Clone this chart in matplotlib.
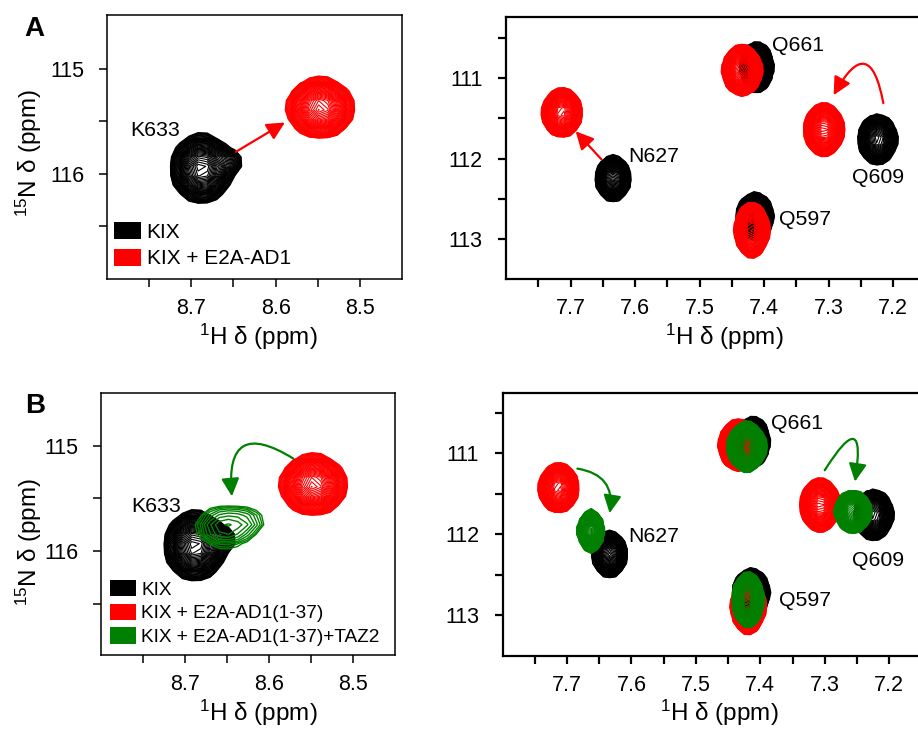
import numpy as np
import matplotlib
matplotlib.use('Agg')
import matplotlib.pyplot as plt
from matplotlib.patches import Patch

plt.rcParams['font.family'] = ['Liberation Sans', 'DejaVu Sans']
plt.rcParams['mathtext.fontset'] = 'custom'
plt.rcParams['mathtext.rm'] = 'Liberation Sans'

# ---- data (ppm) ----
# K633 region (left panels)
k633_kix = [8.688, 115.95, 0.015, 0.135]       # H, N, width H, width N
k633_kix_shoulder = [8.655, 115.89, 0.008, 0.07, 0.18]   # H, N, wH, wN, height
k633_ad1 = [8.547, 115.37, 0.0163, 0.118]
k633_taz2 = [8.652, 115.77, 0.016, 0.09]

# side-chain region (right panels)
residues = ['Q661', 'N627', 'Q609', 'Q597']
kix_h = [7.411, 7.634, 7.224, 7.414]
kix_n = [110.86, 112.25, 111.76, 112.72]
kix_wh = [0.0105, 0.011, 0.0125, 0.0118]
kix_wn = [0.128, 0.116, 0.127, 0.12]
ad1_h = [7.434, 7.713, 7.307, 7.419]
ad1_n = [110.90, 111.43, 111.64, 112.89]
ad1_wh = [0.0127, 0.0127, 0.0127, 0.011]
ad1_wn = [0.128, 0.124, 0.133, 0.14]
taz2_h = [7.421, 7.663, 7.256, 7.419]
taz2_n = [110.92, 111.96, 111.72, 112.81]
taz2_wh = [0.0124, 0.0084, 0.0118, 0.010]
taz2_wn = [0.125, 0.106, 0.106, 0.139]

label_pos_a = [(7.388, 110.59), (7.61, 111.98), (7.263, 112.23), (7.376, 112.76)]
label_pos_b = [(7.384, 110.63), (7.605, 112.03), (7.258, 112.32), (7.371, 112.82)]

left_xmajor = [8.7, 8.6, 8.5]
left_xminor = [8.75, 8.65, 8.55]
left_ymajor = [115, 116]
left_yminor = [115.5, 116.5]
right_xmajor = [7.7, 7.6, 7.5, 7.4, 7.3, 7.2]
right_xminor = [7.75, 7.65, 7.55, 7.45, 7.35, 7.25]
right_ymajor = [111, 112, 113]
right_yminor = [110.5, 111.5, 112.5]

KIX_C, AD1_C, TAZ2_C = 'black', '#ff0000', '#008000'


def spectrum(X, Y, hs, ns, whs, wns, amps=None):
    Z = np.zeros_like(X)
    for i in range(len(hs)):
        a = 1.0 if amps is None else amps[i]
        Z += a * np.exp(-0.5 * ((X - hs[i]) / whs[i]) ** 2 - 0.5 * ((Y - ns[i]) / wns[i]) ** 2)
    return Z


def draw(ax, X, Y, Z, color, n=40, lw=0.8, low=0.05):
    levels = np.geomspace(low, 0.97, n)
    ax.contour(X, Y, Z, levels=levels, colors=color, linewidths=lw)


def style(ax, big, xlab_pos):
    lw = 1.6 if big else 1.1
    for s in ax.spines.values():
        s.set_linewidth(lw)
    ax.tick_params(which='both', direction='out', top=False, right=False,
                   labelsize=15.5, width=lw, length=6)
    ax.tick_params(axis='y', pad=10 if not big else 11)
    ax.tick_params(axis='x', pad=8)
    if big:
        ax.set_xticks(right_xmajor)
        ax.set_xticks(right_xminor, minor=True)
        ax.set_yticks(right_ymajor)
        ax.set_yticks(right_yminor, minor=True)
    else:
        ax.set_xticks(left_xmajor)
        ax.set_xticks(left_xminor, minor=True)
        ax.set_yticks(left_ymajor)
        ax.set_yticks(left_yminor, minor=True)
    ax.set_xlabel(r'$\mathregular{^{1}}$H δ (ppm)', fontsize=17.5)
    ax.xaxis.set_label_coords(*xlab_pos)


def arrow(ax, start, end, color, rad=0.0):
    ax.annotate('', xy=end, xytext=start,
                arrowprops=dict(arrowstyle='-|>,head_length=0.6,head_width=0.3',
                                color=color, lw=1.6, mutation_scale=18,
                                shrinkA=0, shrinkB=0,
                                connectionstyle='arc3,rad=%s' % rad))


fig = plt.figure(figsize=(9.18, 7.3), dpi=100)

# grids
xl = np.arange(8.45, 8.81, 0.011)
yl = np.arange(114.4, 117.1, 0.09)
XL, YL = np.meshgrid(xl, yl)
xr = np.arange(7.14, 7.81, 0.0095)
yr = np.arange(110.2, 113.6, 0.09)
XR, YR = np.meshgrid(xr, yr)

Z_kix_l = spectrum(XL, YL, [k633_kix[0], k633_kix_shoulder[0]], [k633_kix[1], k633_kix_shoulder[1]],
                   [k633_kix[2], k633_kix_shoulder[2]], [k633_kix[3], k633_kix_shoulder[3]],
                   [1.0, k633_kix_shoulder[4]])
Z_ad1_l = spectrum(XL, YL, [k633_ad1[0]], [k633_ad1[1]], [k633_ad1[2]], [k633_ad1[3]])
Z_taz_l = spectrum(XL, YL, [k633_taz2[0], k633_taz2[0] - 0.025], [k633_taz2[1], k633_taz2[1] - 0.05],
                   [k633_taz2[2], 0.012], [k633_taz2[3], 0.07], [1.0, 0.35])
Z_kix_r = spectrum(XR, YR, kix_h, kix_n, kix_wh, kix_wn)
Z_ad1_r = spectrum(XR, YR, ad1_h, ad1_n, ad1_wh, ad1_wn)
Z_taz_r = spectrum(XR, YR, taz2_h, taz2_n, taz2_wh, taz2_wn)

# ---- panel A, left ----
ax1 = fig.add_axes([0.1166, 0.6178, 0.3214, 0.3616])
draw(ax1, XL, YL, Z_kix_l, KIX_C)
draw(ax1, XL, YL, Z_ad1_l, AD1_C)
arrow(ax1, (8.647, 115.79), (8.589, 115.51), AD1_C)
ax1.text(8.772, 115.59, 'K633', fontsize=15.3, ha='left', va='center')
ax1.set_xlim(8.80, 8.45)
ax1.set_ylim(117.01, 114.48)
style(ax1, False, (0.514, -0.162))
ax1.set_ylabel(r'$\mathregular{^{15}}$N δ (ppm)', fontsize=17.5)
ax1.yaxis.set_label_coords(-0.215, 0.477)
ax1.legend(handles=[Patch(facecolor=KIX_C, edgecolor='none', label='KIX'),
                    Patch(facecolor=AD1_C, edgecolor='none', label='KIX + E2A-AD1')],
           loc='lower left', bbox_to_anchor=(0.025, 0.04), frameon=False, fontsize=15,
           handlelength=1.3, handleheight=0.87, handletextpad=0.25, labelspacing=0.32,
           borderpad=0, borderaxespad=0)

# ---- panel A, right ----
ax2 = fig.add_axes([0.5512, 0.6178, 0.4532, 0.3585])
draw(ax2, XR, YR, Z_kix_r, KIX_C)
draw(ax2, XR, YR, Z_ad1_r, AD1_C)
arrow(ax2, (7.652, 112.01), (7.692, 111.66), AD1_C)
arrow(ax2, (7.215, 111.31), (7.292, 111.21), AD1_C, rad=1.4)
for r, (x, y) in zip(residues, label_pos_a):
    ax2.text(x, y, r, fontsize=15.3, ha='left', va='center')
ax2.set_xlim(7.80, 7.155)
ax2.set_ylim(113.5, 110.24)
style(ax2, True, (0.525, -0.164))

# ---- panel B, left ----
ax3 = fig.add_axes([0.110, 0.1027, 0.320, 0.3585])
draw(ax3, XL, YL, Z_kix_l, KIX_C)
draw(ax3, XL, YL, Z_ad1_l, AD1_C)
draw(ax3, XL, YL, Z_taz_l, TAZ2_C, n=9, lw=1.0, low=0.1)
arrow(ax3, (8.571, 115.12), (8.644, 115.48), TAZ2_C, rad=1.0)
ax3.text(8.764, 115.58, 'K633', fontsize=15.3, ha='left', va='center')
ax3.set_xlim(8.80, 8.45)
ax3.set_ylim(116.99, 114.5)
style(ax3, False, (0.536, -0.162))
ax3.set_ylabel(r'$\mathregular{^{15}}$N δ (ppm)', fontsize=17.5)
ax3.yaxis.set_label_coords(-0.195, 0.432)
ax3.legend(handles=[Patch(facecolor=KIX_C, edgecolor='none', label='KIX'),
                    Patch(facecolor=AD1_C, edgecolor='none', label='KIX + E2A-AD1(1-37)'),
                    Patch(facecolor=TAZ2_C, edgecolor='none', label='KIX + E2A-AD1(1-37)+TAZ2')],
           loc='lower left', bbox_to_anchor=(0.03, 0.035), frameon=False, fontsize=13.7,
           handlelength=1.4, handleheight=0.96, handletextpad=0.25, labelspacing=0.25,
           borderpad=0, borderaxespad=0)

# ---- panel B, right ----
ax4 = fig.add_axes([0.5476, 0.1018, 0.4567, 0.3594])
draw(ax4, XR, YR, Z_kix_r, KIX_C)
draw(ax4, XR, YR, Z_ad1_r, AD1_C)
draw(ax4, XR, YR, Z_taz_r, TAZ2_C)
arrow(ax4, (7.684, 111.19), (7.634, 111.74), TAZ2_C, rad=-0.5)
arrow(ax4, (7.300, 111.21), (7.253, 111.35), TAZ2_C, rad=-2.4)
for r, (x, y) in zip(residues, label_pos_b):
    ax4.text(x, y, r, fontsize=15.3, ha='left', va='center')
ax4.set_xlim(7.80, 7.149)
ax4.set_ylim(113.5, 110.26)
style(ax4, True, (0.516, -0.162))

fig.text(0.027, 0.978, 'A', fontsize=20, fontweight='bold', va='top')
fig.text(0.027, 0.462, 'B', fontsize=20, fontweight='bold', va='top')

fig.savefig('out.png', dpi=100)
